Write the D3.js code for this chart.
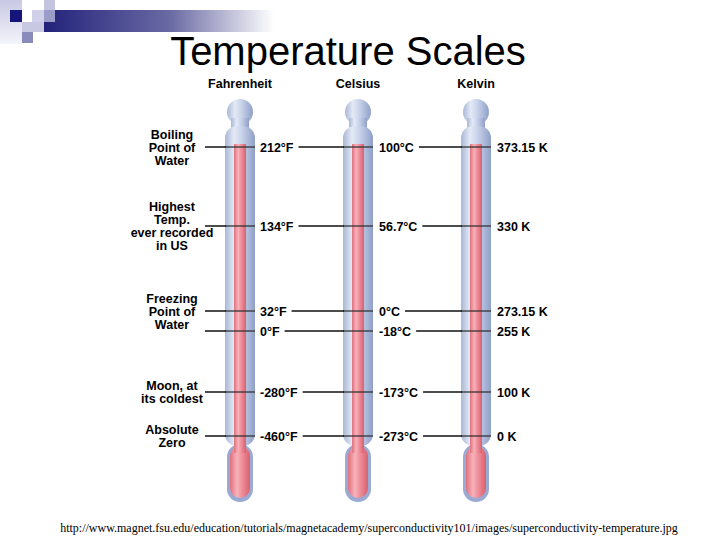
<!DOCTYPE html>
<html><head><meta charset="utf-8">
<script src="https://cdn.jsdelivr.net/npm/d3@7"></script>
<style>body{margin:0;background:#fff}svg{display:block}</style>
</head><body>
<svg id="chart" width="720" height="540"></svg>
<script>
// scales & reference points
var scales = ['Fahrenheit', 'Celsius', 'Kelvin'];
var kelvin = [373.15, 330, 273.15, 255.37, 100, 0];
var fLabels = ['212°F', '134°F', '32°F', '0°F', '-280°F', '-460°F'];
var cLabels = ['100°C', '56.7°C', '0°C', '-18°C', '-173°C', '-273°C'];
var kLabels = ['373.15 K', '330 K', '273.15 K', '255 K', '100 K', '0 K'];
var names = [['Boiling', 'Point of', 'Water'], ['Highest', 'Temp.', 'ever recorded', 'in US'],
  ['Freezing', 'Point of', 'Water'], [], ['Moon, at', 'its coldest'], ['Absolute', 'Zero']];

var svg = d3.select('#chart');
var defs = svg.append('defs');

// thermometer positions
var x = d3.scalePoint().domain(scales).range([240, 476]);
// picture isn't linear in temperature, so piecewise
var y = d3.scaleLinear().domain([0, 100, 255.37, 273.15, 330, 373.15])
  .range([436, 392, 331, 311, 226, 147]);

// corner decoration
var g1 = defs.append('linearGradient').attr('id', 'bar');
g1.append('stop').attr('offset', 0).attr('stop-color', '#22227a');
g1.append('stop').attr('offset', 0.55).attr('stop-color', '#6a6aa4');
g1.append('stop').attr('offset', 1).attr('stop-color', '#fff');
var g2 = defs.append('linearGradient').attr('id', 'col').attr('x2', 0).attr('y2', 1);
g2.append('stop').attr('offset', 0).attr('stop-color', '#c8c8e4');
g2.append('stop').attr('offset', 1).attr('stop-color', '#f4f4fa');
svg.append('rect').attr('x', 44).attr('y', 10).attr('width', 230).attr('height', 22).attr('fill', 'url(#bar)');
svg.append('rect').attr('x', 0).attr('y', 0).attr('width', 22).attr('height', 44).attr('fill', 'url(#col)');
svg.append('rect').attr('x', 10).attr('y', 10).attr('width', 12).attr('height', 12).attr('fill', '#14147a');
svg.append('rect').attr('x', 32).attr('y', 10).attr('width', 12).attr('height', 12).attr('fill', '#d0d0e8');
svg.append('rect').attr('x', 44).attr('y', 0).attr('width', 11).attr('height', 10).attr('fill', '#c4c4e0');
svg.append('rect').attr('x', 44).attr('y', 10).attr('width', 11).attr('height', 12).attr('fill', '#9c9cc8');
svg.append('rect').attr('x', 22).attr('y', 22).attr('width', 22).attr('height', 10).attr('fill', '#c8c8e2');
svg.append('rect').attr('x', 22).attr('y', 32).attr('width', 11).attr('height', 11).attr('fill', '#8a8abc');

svg.append('text').attr('x', 348).attr('y', 65).attr('text-anchor', 'middle')
  .attr('font-family', 'Liberation Sans, Arial').attr('font-size', 40).text('Temperature Scales');

// glass & fluid gradients
var glass = defs.append('linearGradient').attr('id', 'glass');
[['0', '#a9b7d6'], ['0.3', '#e4eaf6'], ['0.55', '#c9d3ea'], ['1', '#8f9fc8']].forEach(function(s) {
  glass.append('stop').attr('offset', s[0]).attr('stop-color', s[1]);
});
var fluid = defs.append('linearGradient').attr('id', 'fluid');
[['0', '#e0707e'], ['0.35', '#f7b3bb'], ['0.6', '#ef8e9a'], ['1', '#d9606f']].forEach(function(s) {
  fluid.append('stop').attr('offset', s[0]).attr('stop-color', s[1]);
});

var font = 'Liberation Sans, Arial';
var fs = 12.5;

var therm = svg.selectAll('g.therm').data(scales).enter().append('g')
  .attr('class', 'therm').attr('transform', function(d) { return 'translate(' + x(d) + ',0)'; });

therm.append('text').attr('y', 88).attr('text-anchor', 'middle')
  .attr('font-family', font).attr('font-weight', 'bold').attr('font-size', fs)
  .text(function(d) { return d; });

// knob + neck
therm.append('circle').attr('cy', 112).attr('r', 13).attr('fill', 'url(#glass)');
therm.append('rect').attr('x', -9).attr('y', 118).attr('width', 18).attr('height', 14).attr('fill', 'url(#glass)');
// tube
therm.append('rect').attr('x', -15).attr('y', 126).attr('width', 30).attr('height', y(0) - 126 + 10)
  .attr('rx', 12).attr('fill', 'url(#glass)');
// bulb
therm.append('rect').attr('x', -13).attr('y', y(0) + 8).attr('width', 26).attr('height', 58)
  .attr('rx', 13).attr('fill', '#9aaad2');
therm.append('rect').attr('x', -10).attr('y', y(0) + 10).attr('width', 20).attr('height', 52)
  .attr('rx', 10).attr('fill', 'url(#fluid)');
// column
therm.append('rect').attr('x', -6).attr('y', y(kelvin[0]) - 3).attr('width', 12)
  .attr('height', y(0) - y(kelvin[0]) + 20).attr('fill', 'url(#fluid)');

// marks on each tube
therm.selectAll('line.mark').data(kelvin).enter().append('line').attr('class', 'mark')
  .attr('x1', -15).attr('x2', 15).attr('y1', y).attr('y2', y)
  .attr('stroke', '#333').attr('stroke-width', 1.3);

// left leader lines
svg.selectAll(null).data(kelvin).enter().append('line')
  .attr('x1', 205).attr('x2', x('Fahrenheit') - 14).attr('y1', y).attr('y2', y)
  .attr('stroke', '#111').attr('stroke-width', 1.5);

var labelX = [260, 379, 497];
var nextX = [x('Celsius'), x('Kelvin'), null];
[fLabels, cLabels, kLabels].forEach(function(labels, i) {
  var txt = svg.selectAll(null).data(labels).enter().append('text')
    .attr('x', labelX[i]).attr('y', function(d, j) { return y(kelvin[j]) + 4.5; })
    .attr('font-family', font).attr('font-weight', 'bold').attr('font-size', fs)
    .text(function(d) { return d; });
  if (nextX[i] == null) return;
  // leader runs from the end of each label into the next tube
  txt.each(function(d, j) {
    var w = this.getComputedTextLength();
    svg.append('line').attr('x1', labelX[i] + w + 5).attr('x2', nextX[i] - 14)
      .attr('y1', y(kelvin[j])).attr('y2', y(kelvin[j]))
      .attr('stroke', '#111').attr('stroke-width', 1.5);
  });
});

// names on the left
names.forEach(function(lines, j) {
  var t = svg.append('text').attr('text-anchor', 'middle')
    .attr('font-family', font).attr('font-weight', 'bold').attr('font-size', fs);
  var top = y(kelvin[j]) - (lines.length - 1) * 13 / 2 + 4.5;
  lines.forEach(function(s, k) {
    t.append('tspan').attr('x', 172).attr('y', top + k * 13).text(s);
  });
});

svg.append('text').attr('x', 369).attr('y', 532).attr('text-anchor', 'middle')
  .attr('font-family', 'Liberation Serif, Times New Roman').attr('font-size', 12)
  .text('http://www.magnet.fsu.edu/education/tutorials/magnetacademy/superconductivity101/images/superconductivity-temperature.jpg');
</script>
</body></html>
